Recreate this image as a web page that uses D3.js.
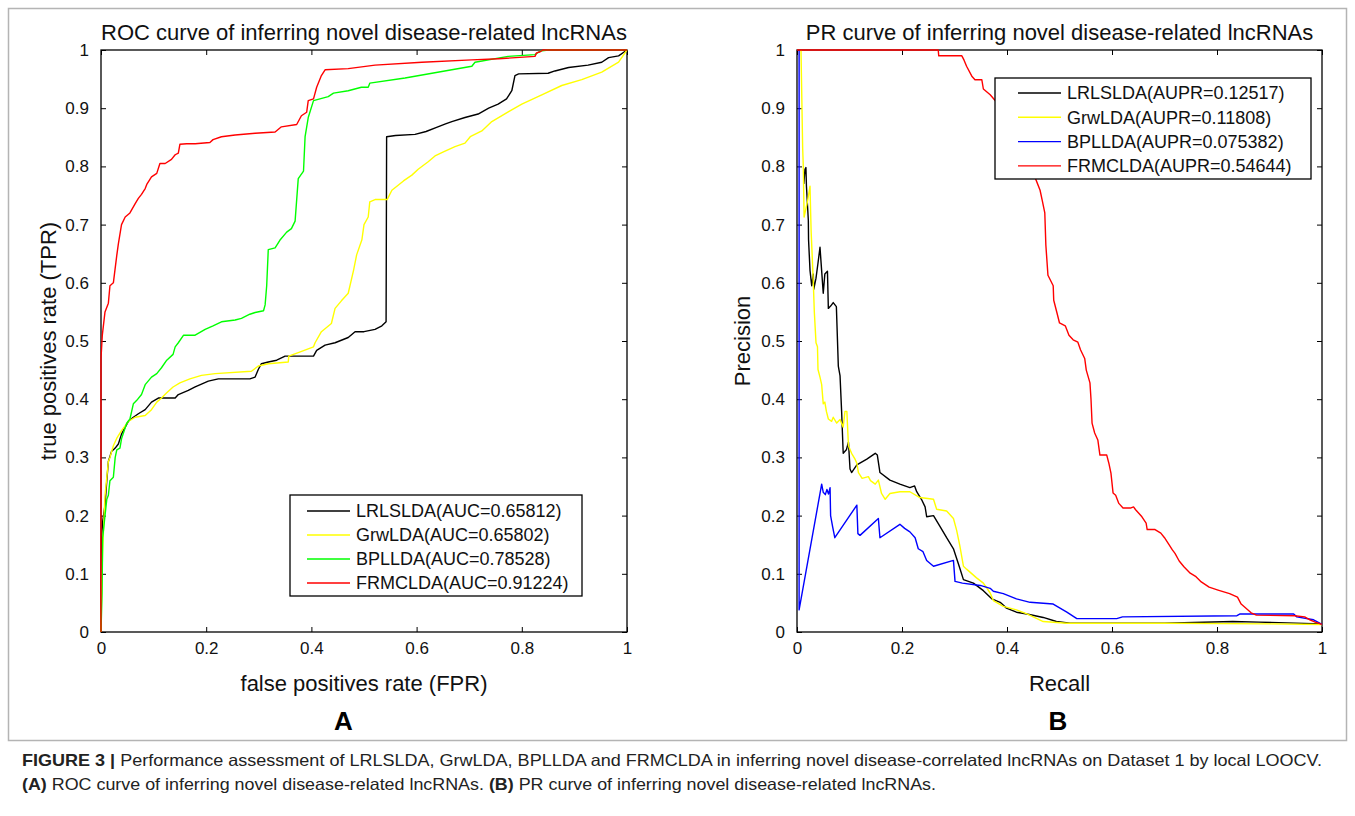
<!DOCTYPE html>
<html><head><meta charset="utf-8">
<script src="https://cdn.jsdelivr.net/npm/d3@7"></script>
<style>
html,body{margin:0;padding:0;background:#fff;}
svg{display:block;font-family:"Liberation Sans",Arial,Helvetica,sans-serif;}
</style></head>
<body><svg id="fig" width="1355" height="816"></svg>
<script>
// ---------------- DATA ----------------
const seriesNames = ["LRLSLDA", "GrwLDA", "BPLLDA", "FRMCLDA"];
const rocAUC = ["0.65812", "0.65802", "0.78528", "0.91224"];
const prAUPR = ["0.12517", "0.11808", "0.075382", "0.54644"];
const tickValues = [0, 0.1, 0.2, 0.3, 0.4, 0.5, 0.6, 0.7, 0.8, 0.9, 1];
const xTickValues = [0, 0.2, 0.4, 0.6, 0.8, 1];

// ROC curves: [FPR, TPR]
const rocLRLSLDA = [[0,0],[0.0013,0.162],[0.0032,0.19],[0.0076,0.218],[0.011,0.26],[0.014,0.293],[0.02,0.31],[0.027,0.316],[0.033,0.323],[0.039,0.34],[0.046,0.352],[0.052,0.362],[0.0615,0.369],[0.071,0.375],[0.084,0.382],[0.096,0.395],[0.109,0.402],[0.141,0.402],[0.147,0.408],[0.166,0.415],[0.179,0.421],[0.191,0.426],[0.204,0.431],[0.223,0.435],[0.283,0.435],[0.293,0.438],[0.299,0.451],[0.305,0.461],[0.318,0.464],[0.334,0.467],[0.35,0.474],[0.404,0.474],[0.41,0.484],[0.426,0.493],[0.445,0.497],[0.47,0.506],[0.483,0.516],[0.5,0.516],[0.521,0.52],[0.534,0.526],[0.542,0.533],[0.543,0.851],[0.56,0.853],[0.597,0.855],[0.618,0.86],[0.638,0.867],[0.655,0.873],[0.667,0.877],[0.692,0.884],[0.717,0.89],[0.737,0.9],[0.755,0.907],[0.771,0.916],[0.781,0.93],[0.787,0.956],[0.794,0.959],[0.85,0.96],[0.863,0.964],[0.889,0.97],[0.926,0.974],[0.952,0.979],[0.965,0.987],[0.984,0.99],[1,1]];
const rocGrwLDA = [[0,0],[0.0013,0.08],[0.0032,0.143],[0.0076,0.234],[0.014,0.293],[0.017,0.3],[0.0235,0.32],[0.03,0.333],[0.039,0.346],[0.052,0.362],[0.065,0.369],[0.084,0.372],[0.096,0.382],[0.106,0.395],[0.115,0.402],[0.125,0.411],[0.137,0.421],[0.15,0.428],[0.169,0.435],[0.191,0.441],[0.217,0.444],[0.286,0.448],[0.299,0.457],[0.318,0.461],[0.356,0.464],[0.357,0.474],[0.375,0.48],[0.404,0.49],[0.407,0.497],[0.419,0.516],[0.438,0.53],[0.445,0.556],[0.457,0.569],[0.47,0.582],[0.48,0.621],[0.486,0.648],[0.496,0.674],[0.5,0.7],[0.508,0.713],[0.511,0.739],[0.521,0.743],[0.544,0.743],[0.553,0.759],[0.575,0.775],[0.591,0.785],[0.603,0.795],[0.622,0.808],[0.635,0.818],[0.651,0.825],[0.673,0.834],[0.692,0.84],[0.702,0.851],[0.724,0.861],[0.743,0.877],[0.775,0.894],[0.8,0.907],[0.838,0.923],[0.876,0.939],[0.914,0.949],[0.952,0.962],[0.984,0.979],[1,1]];
const rocBPLLDA = [[0,0],[0.002,0.067],[0.0032,0.162],[0.0076,0.2],[0.011,0.228],[0.014,0.235],[0.017,0.26],[0.0235,0.266],[0.027,0.3],[0.03,0.313],[0.036,0.316],[0.039,0.332],[0.049,0.359],[0.055,0.366],[0.0615,0.392],[0.068,0.398],[0.077,0.408],[0.084,0.425],[0.096,0.438],[0.106,0.444],[0.115,0.454],[0.125,0.467],[0.137,0.477],[0.141,0.49],[0.147,0.497],[0.157,0.51],[0.179,0.51],[0.198,0.52],[0.213,0.526],[0.229,0.533],[0.255,0.536],[0.267,0.539],[0.283,0.546],[0.293,0.549],[0.309,0.552],[0.312,0.562],[0.315,0.595],[0.318,0.657],[0.331,0.66],[0.34,0.673],[0.353,0.687],[0.362,0.693],[0.369,0.706],[0.375,0.779],[0.385,0.792],[0.388,0.851],[0.394,0.884],[0.404,0.913],[0.432,0.92],[0.442,0.926],[0.47,0.93],[0.495,0.936],[0.508,0.936],[0.511,0.943],[0.578,0.952],[0.667,0.966],[0.705,0.972],[0.711,0.979],[0.774,0.989],[0.825,0.992],[0.835,0.998],[0.85,1],[1,1]];
const rocFRMCLDA = [[0,0],[0,0.47],[0.0025,0.51],[0.0076,0.55],[0.014,0.565],[0.017,0.595],[0.0235,0.6],[0.03,0.647],[0.033,0.667],[0.039,0.7],[0.046,0.713],[0.055,0.72],[0.065,0.736],[0.071,0.745],[0.077,0.752],[0.084,0.762],[0.087,0.769],[0.096,0.782],[0.106,0.788],[0.112,0.805],[0.122,0.805],[0.134,0.812],[0.141,0.82],[0.147,0.823],[0.15,0.838],[0.163,0.839],[0.179,0.839],[0.207,0.841],[0.213,0.846],[0.229,0.851],[0.255,0.854],[0.293,0.857],[0.331,0.859],[0.343,0.868],[0.372,0.872],[0.381,0.887],[0.391,0.893],[0.394,0.913],[0.404,0.916],[0.41,0.936],[0.419,0.956],[0.426,0.966],[0.47,0.968],[0.521,0.974],[0.61,0.979],[0.705,0.983],[0.756,0.985],[0.825,0.989],[0.828,0.995],[0.835,0.997],[0.84,1],[1,1]];

// PR curves: [Recall, Precision]
const prLRLSLDA = [[0.013,0.77],[0.0152,0.795],[0.017,0.798],[0.018,0.766],[0.0216,0.707],[0.022,0.674],[0.0248,0.621],[0.028,0.595],[0.031,0.615],[0.032,0.589],[0.0362,0.608],[0.04,0.634],[0.0438,0.661],[0.047,0.62],[0.05,0.582],[0.053,0.615],[0.058,0.62],[0.0597,0.556],[0.064,0.56],[0.069,0.566],[0.075,0.559],[0.0787,0.457],[0.082,0.44],[0.085,0.379],[0.088,0.307],[0.094,0.313],[0.098,0.326],[0.101,0.28],[0.104,0.274],[0.114,0.287],[0.133,0.297],[0.149,0.307],[0.153,0.304],[0.158,0.274],[0.177,0.261],[0.196,0.254],[0.215,0.248],[0.224,0.251],[0.228,0.241],[0.237,0.228],[0.244,0.215],[0.247,0.198],[0.26,0.2],[0.272,0.182],[0.285,0.162],[0.298,0.143],[0.31,0.11],[0.317,0.09],[0.336,0.084],[0.355,0.071],[0.371,0.057],[0.387,0.051],[0.399,0.041],[0.418,0.034],[0.438,0.031],[0.469,0.025],[0.494,0.018],[0.52,0.015],[0.7,0.015],[0.83,0.018],[0.88,0.017],[1,0.014]];
const prGrwLDA = [[0.0076,1],[0.0108,0.831],[0.012,0.8],[0.0135,0.713],[0.02,0.74],[0.0248,0.766],[0.026,0.72],[0.027,0.687],[0.031,0.602],[0.033,0.55],[0.0362,0.497],[0.039,0.49],[0.04,0.451],[0.0438,0.438],[0.047,0.425],[0.05,0.392],[0.053,0.395],[0.056,0.379],[0.0597,0.366],[0.066,0.362],[0.069,0.369],[0.0756,0.359],[0.082,0.365],[0.088,0.352],[0.0914,0.379],[0.095,0.379],[0.098,0.32],[0.104,0.307],[0.1105,0.297],[0.114,0.29],[0.117,0.274],[0.124,0.264],[0.136,0.267],[0.14,0.26],[0.149,0.254],[0.155,0.261],[0.161,0.238],[0.168,0.228],[0.177,0.238],[0.196,0.241],[0.215,0.241],[0.234,0.231],[0.26,0.228],[0.266,0.211],[0.285,0.208],[0.298,0.195],[0.304,0.175],[0.31,0.149],[0.317,0.113],[0.323,0.108],[0.342,0.093],[0.355,0.084],[0.368,0.067],[0.374,0.054],[0.393,0.044],[0.418,0.038],[0.438,0.031],[0.469,0.018],[0.514,0.015],[0.7,0.015],[0.9,0.014],[1,0.013]];
const prBPLLDA = [[0.004,1],[0.004,0.038],[0.047,0.254],[0.05,0.24],[0.054,0.236],[0.057,0.245],[0.06,0.237],[0.063,0.248],[0.064,0.2],[0.068,0.18],[0.072,0.162],[0.114,0.218],[0.116,0.169],[0.12,0.166],[0.155,0.195],[0.158,0.162],[0.196,0.185],[0.205,0.178],[0.215,0.172],[0.225,0.162],[0.231,0.143],[0.24,0.138],[0.247,0.123],[0.26,0.113],[0.298,0.123],[0.301,0.087],[0.315,0.084],[0.349,0.08],[0.368,0.075],[0.374,0.07],[0.393,0.066],[0.418,0.057],[0.444,0.051],[0.488,0.048],[0.514,0.034],[0.533,0.023],[0.609,0.023],[0.62,0.026],[0.838,0.028],[0.844,0.031],[0.946,0.031],[0.952,0.026],[0.984,0.021],[1,0.013]];
const prFRMCLDA = [[0,1],[0.269,1],[0.27,0.99],[0.314,0.99],[0.318,0.983],[0.323,0.972],[0.333,0.955],[0.339,0.949],[0.352,0.949],[0.355,0.933],[0.368,0.923],[0.39,0.9],[0.42,0.86],[0.44,0.82],[0.453,0.782],[0.463,0.759],[0.467,0.742],[0.472,0.72],[0.474,0.665],[0.478,0.613],[0.488,0.595],[0.489,0.57],[0.495,0.549],[0.5,0.531],[0.511,0.526],[0.518,0.51],[0.526,0.502],[0.535,0.498],[0.54,0.485],[0.548,0.47],[0.551,0.45],[0.558,0.428],[0.56,0.4],[0.562,0.359],[0.567,0.342],[0.573,0.33],[0.577,0.304],[0.59,0.304],[0.594,0.29],[0.598,0.273],[0.602,0.239],[0.607,0.235],[0.613,0.221],[0.621,0.213],[0.635,0.213],[0.641,0.215],[0.645,0.21],[0.657,0.198],[0.665,0.187],[0.667,0.176],[0.682,0.176],[0.693,0.17],[0.7,0.162],[0.715,0.141],[0.72,0.135],[0.728,0.122],[0.737,0.112],[0.749,0.101],[0.76,0.095],[0.77,0.086],[0.785,0.077],[0.802,0.072],[0.824,0.066],[0.839,0.06],[0.846,0.048],[0.865,0.033],[0.875,0.029],[0.948,0.028],[0.967,0.026],[0.977,0.021],[0.987,0.017],[1,0.013]];

const rocColors = ["#000000", "#ffff00", "#00ff00", "#ff0000"];
const prColors = ["#000000", "#ffff00", "#0000ff", "#ff0000"];

// ---------------- DRAW ----------------
const svg = d3.select("#fig");
const FONT = '"Liberation Sans",Arial,Helvetica,sans-serif';

// outer figure border
svg.append("rect").attr("x", 8.5).attr("y", 8.5).attr("width", 1338).attr("height", 732)
  .attr("fill", "none").attr("stroke", "#b4b4b4").attr("stroke-width", 1.5);

function panel(opts) {
  const g = svg.append("g");
  const x = d3.scaleLinear().domain([0, 1]).range([opts.left, opts.right]);
  const y = d3.scaleLinear().domain([0, 1]).range([opts.bottom, opts.top]);

  // axes (MATLAB box with inward ticks on all sides)
  const axB = d3.axisBottom(x).tickValues(xTickValues).tickSize(-5).tickPadding(10).tickFormat(d3.format("~g"));
  const axT = d3.axisTop(x).tickValues(xTickValues).tickSize(-5).tickFormat("");
  const axL = d3.axisLeft(y).tickValues(tickValues).tickSize(-5).tickPadding(12).tickFormat(d3.format("~g"));
  const axR = d3.axisRight(y).tickValues(tickValues).tickSize(-5).tickFormat("");
  const gb = g.append("g").attr("transform", `translate(0,${opts.bottom})`).call(axB);
  const gt = g.append("g").attr("transform", `translate(0,${opts.top})`).call(axT);
  const gl = g.append("g").attr("transform", `translate(${opts.left},0)`).call(axL);
  const gr = g.append("g").attr("transform", `translate(${opts.right},0)`).call(axR);
  [gb, gt, gl, gr].forEach(a => {
    a.select(".domain").remove();
    a.selectAll("line").attr("stroke", "#000").attr("stroke-width", 1);
    a.selectAll("text").attr("font-family", FONT).attr("font-size", 17).attr("fill", "#111");
  });
  gb.selectAll("text").attr("dy", "0.71em");

  // box
  g.append("rect").attr("x", opts.left).attr("y", opts.top)
    .attr("width", opts.right - opts.left).attr("height", opts.bottom - opts.top)
    .attr("fill", "none").attr("stroke", "#000").attr("stroke-width", 1.3);

  // curves
  const line = d3.line().x(d => x(d[0])).y(d => y(d[1]));
  opts.series.forEach((s, i) => {
    g.append("path").datum(s).attr("d", line).attr("fill", "none")
      .attr("stroke", opts.colors[i]).attr("stroke-width", 1.4).attr("stroke-linejoin", "round");
  });

  // title
  g.append("text").attr("x", (opts.left + opts.right) / 2).attr("y", 40)
    .attr("text-anchor", "middle").attr("font-size", 22).attr("fill", "#111").text(opts.title);
  // axis labels
  g.append("text").attr("x", (opts.left + opts.right) / 2).attr("y", 691)
    .attr("text-anchor", "middle").attr("font-size", 22).attr("fill", "#111").text(opts.xlabel);
  g.append("text").attr("transform", `translate(${opts.ylabelX},${(opts.top + opts.bottom) / 2}) rotate(-90)`)
    .attr("text-anchor", "middle").attr("font-size", 22).attr("fill", "#111").text(opts.ylabel);
  // panel letter
  g.append("text").attr("x", opts.letterX).attr("y", 730)
    .attr("text-anchor", "middle").attr("font-size", 26).attr("font-weight", "bold").attr("fill", "#000").text(opts.letter);

  // legend
  const L = opts.legend;
  const lg = g.append("g");
  lg.append("rect").attr("x", L.x).attr("y", L.y).attr("width", L.w).attr("height", L.h)
    .attr("fill", "#fff").attr("stroke", "#000").attr("stroke-width", 1.3);
  opts.labels.forEach((lab, i) => {
    const cy = L.y + L.first + i * L.step;
    lg.append("line").attr("x1", L.x + L.lineStart).attr("x2", L.x + L.lineStart + 43)
      .attr("y1", cy).attr("y2", cy).attr("stroke", opts.colors[i]).attr("stroke-width", 1.4);
    lg.append("text").attr("x", L.x + L.lineStart + 49).attr("y", cy).attr("dy", "0.35em")
      .attr("font-size", 18).attr("fill", "#111").text(lab);
  });
}

panel({
  left: 101, right: 627, top: 50, bottom: 632,
  series: [rocLRLSLDA, rocGrwLDA, rocBPLLDA, rocFRMCLDA],
  colors: rocColors,
  title: "ROC curve of inferring novel disease-related lncRNAs",
  xlabel: "false positives rate (FPR)", ylabel: "true positives rate (TPR)", ylabelX: 56,
  letter: "A", letterX: 343.5,
  labels: seriesNames.map((n, i) => `${n}(AUC=${rocAUC[i]})`),
  legend: {x: 290, y: 495, w: 292, h: 101, lineStart: 17, first: 16, step: 24}
});

panel({
  left: 797, right: 1322, top: 50, bottom: 632,
  series: [prLRLSLDA, prGrwLDA, prBPLLDA, prFRMCLDA],
  colors: prColors,
  title: "PR curve of inferring novel disease-related lncRNAs",
  xlabel: "Recall", ylabel: "Precision", ylabelX: 750,
  letter: "B", letterX: 1058,
  labels: seriesNames.map((n, i) => `${n}(AUPR=${prAUPR[i]})`),
  legend: {x: 995, y: 78, w: 316, h: 101, lineStart: 23, first: 15, step: 24.3}
});

// caption
const cap1 = svg.append("text").attr("x", 22).attr("y", 766).attr("font-size", 16.5).attr("fill", "#222");
cap1.append("tspan").attr("font-weight", "bold").text("FIGURE 3 | ");
cap1.append("tspan").text("Performance assessment of LRLSLDA, GrwLDA, BPLLDA and FRMCLDA in inferring novel disease-correlated lncRNAs on Dataset 1 by local LOOCV.");
cap1.attr("textLength", 1300).attr("lengthAdjust", "spacingAndGlyphs");
const cap2 = svg.append("text").attr("x", 22).attr("y", 790).attr("font-size", 16.5).attr("fill", "#222");
cap2.append("tspan").attr("font-weight", "bold").text("(A)");
cap2.append("tspan").text(" ROC curve of inferring novel disease-related lncRNAs. ");
cap2.append("tspan").attr("font-weight", "bold").text("(B)");
cap2.append("tspan").text(" PR curve of inferring novel disease-related lncRNAs.");
cap2.attr("textLength", 914).attr("lengthAdjust", "spacingAndGlyphs");
</script></body></html>
